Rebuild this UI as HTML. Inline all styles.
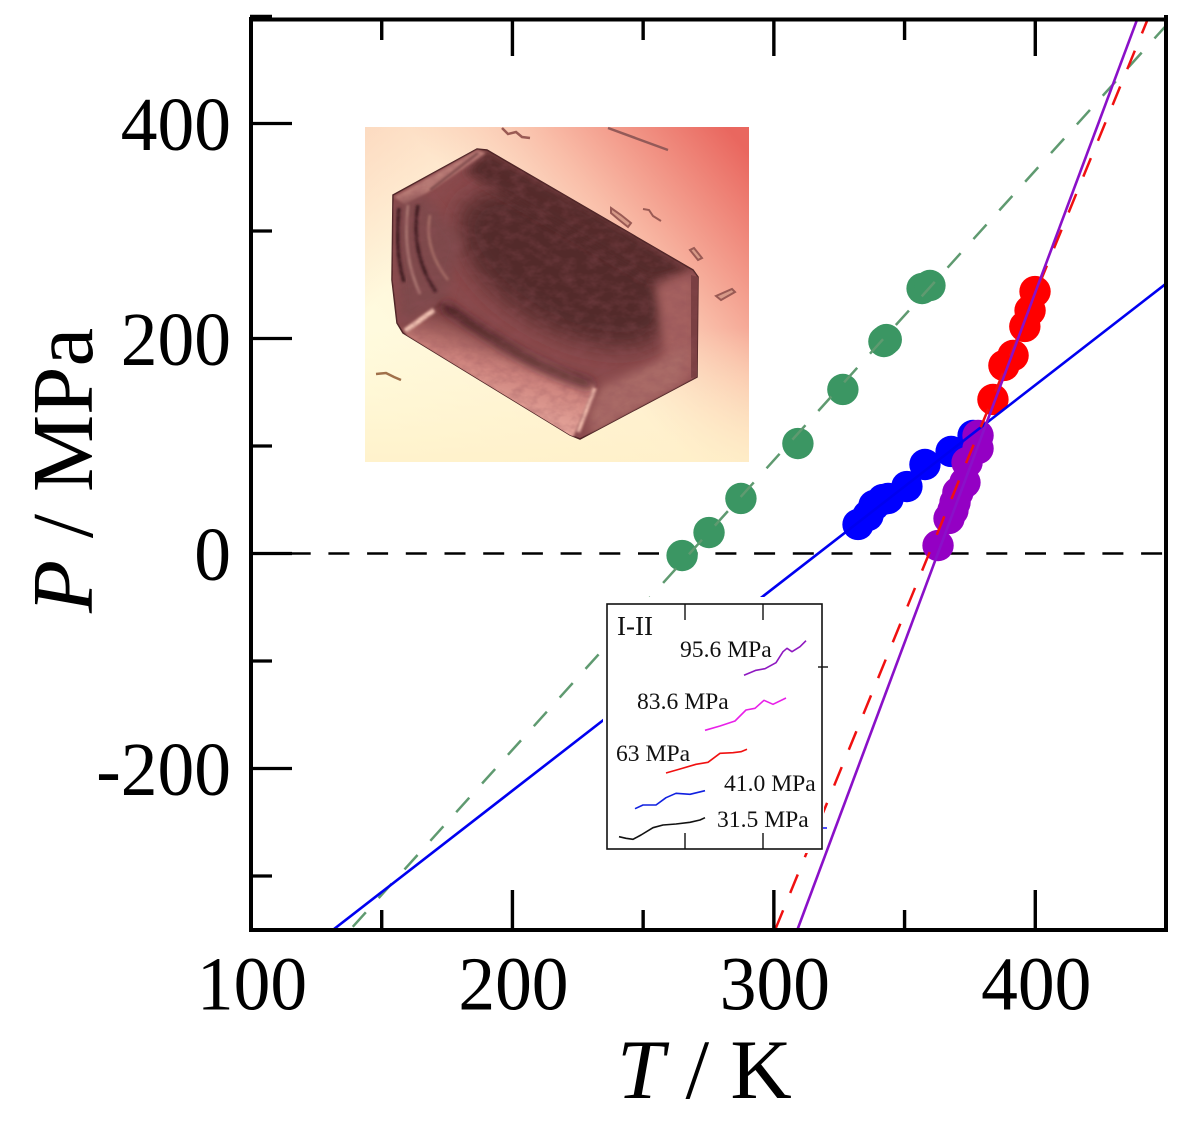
<!DOCTYPE html>
<html lang="en">
<head>
<meta charset="utf-8">
<title>P-T phase diagram</title>
<style>
html,body{margin:0;padding:0;background:#fff;}
svg{display:block;font-family:"Liberation Serif",serif;}
</style>
</head>
<body>
<svg id="chart" xmlns="http://www.w3.org/2000/svg" width="1200" height="1135" viewBox="0 0 1200 1135">
  <defs>
    <clipPath id="plot-clip"><rect x="251" y="19" width="915" height="911"/></clipPath>
    <clipPath id="crystal-clip"><polygon points="393,195 477,149 487,150 693,270 698,277 697,377 580,439 570,435 403,333 397,323 392,280"/></clipPath>
    <linearGradient id="photo-bg" x1="0" y1="0.8" x2="1" y2="0.08">
      <stop offset="0" stop-color="#fffde0"/>
      <stop offset="0.45" stop-color="#fff2d8"/>
      <stop offset="0.68" stop-color="#f9bda8"/>
      <stop offset="1" stop-color="#e9675f"/>
    </linearGradient>
    <linearGradient id="photo-top" x1="0" y1="0" x2="0.5" y2="0.45">
      <stop offset="0" stop-color="#fbcdb4" stop-opacity="0.65"/>
      <stop offset="0.55" stop-color="#fbcdb4" stop-opacity="0"/>
    </linearGradient>
    <linearGradient id="photo-bottom" x1="0" y1="0" x2="0" y2="1">
      <stop offset="0.6" stop-color="#fff0c8" stop-opacity="0"/>
      <stop offset="1" stop-color="#fff0c8" stop-opacity="0.85"/>
    </linearGradient>
    <linearGradient id="band-grad" x1="0.35" y1="0.1" x2="0.1" y2="0.75">
      <stop offset="0" stop-color="#6e3638"/>
      <stop offset="0.45" stop-color="#cc827c"/>
      <stop offset="1" stop-color="#eeb0a4"/>
    </linearGradient>
    <filter id="blur-lg" x="-30%" y="-30%" width="160%" height="160%"><feGaussianBlur stdDeviation="12"/></filter>
    <filter id="blur-md" x="-30%" y="-30%" width="160%" height="160%"><feGaussianBlur stdDeviation="5"/></filter>
    <filter id="blur-sm" x="-30%" y="-30%" width="160%" height="160%"><feGaussianBlur stdDeviation="1.3"/></filter>
    <filter id="mottle" x="0" y="0" width="100%" height="100%">
      <feTurbulence type="fractalNoise" baseFrequency="0.08 0.12" numOctaves="3" seed="7"/>
      <feColorMatrix type="matrix" values="0 0 0 0 0.28  0 0 0 0 0.08  0 0 0 0 0.1  1.6 0 0 0 -0.6"/>
    </filter>
  </defs>

  <g id="photo">
    <rect x="365" y="127" width="384" height="335" fill="url(#photo-bg)"/>
    <rect x="365" y="127" width="384" height="335" fill="url(#photo-top)"/>
    <rect x="365" y="127" width="384" height="335" fill="url(#photo-bottom)"/>
    <g>
      <polygon points="393,195 477,149 487,150 693,270 698,277 697,377 580,439 570,435 403,333 397,323 392,280" fill="#8a4a4c" stroke="#4c2224" stroke-width="1.5"/>
      <g clip-path="url(#crystal-clip)">
        <ellipse cx="565" cy="268" rx="118" ry="62" transform="rotate(30 565 268)" fill="#532a2c" filter="url(#blur-lg)"/>
        <polygon points="487,150 693,270 650,280 465,172" fill="#552a2c" filter="url(#blur-md)"/>
        <polygon points="405,335 440,300 487,330 595,385 572,440" fill="url(#band-grad)" filter="url(#blur-sm)"/>
        <polygon points="655,285 695,272 698,377 622,410 665,360" fill="#a4605f" filter="url(#blur-md)"/>
        <polygon points="691,275 698,277 697,377 691,378" fill="#7a3f42"/>
        <polygon points="394,197 477,150 486,153 432,190 405,205" fill="#b97b76" filter="url(#blur-sm)"/>
        <polygon points="393,205 425,195 462,240 445,300 402,325" fill="#7e4a4b" filter="url(#blur-md)"/>
        <polygon points="590,412 600,388 690,345 680,385 590,437" fill="#a96a66" filter="url(#blur-md)"/>
        <path d="M444,305 C500,345 540,370 592,385" fill="none" stroke="#401c20" stroke-width="8" filter="url(#blur-md)"/>
        <path d="M399,208 C396,240 398,262 404,282" fill="none" stroke="#3f1f22" stroke-width="3.5" filter="url(#blur-sm)"/>
        <path d="M408,205 C404,240 408,268 420,294" fill="none" stroke="#b07c76" stroke-width="2.5" filter="url(#blur-sm)"/>
        <path d="M418,205 C412,240 420,268 436,292" fill="none" stroke="#3f1f22" stroke-width="3.5" filter="url(#blur-sm)"/>
        <path d="M430,215 C425,240 434,262 448,280" fill="none" stroke="#a87068" stroke-width="2.5" filter="url(#blur-sm)"/>
        <path d="M405,331 L434,310" fill="none" stroke="#f0c0b0" stroke-width="5" filter="url(#blur-sm)"/>
        <path d="M578,432 L595,388" fill="none" stroke="#efb9aa" stroke-width="4" filter="url(#blur-sm)"/>
        <path d="M430,190 L478,153" fill="none" stroke="#6a3a3c" stroke-width="2" filter="url(#blur-sm)"/>
        <rect x="385" y="140" width="320" height="305" filter="url(#mottle)" opacity="0.4"/>
      </g>
    </g>
    <g fill="none" stroke="#9a5a54" stroke-width="2">
      <line x1="608" y1="128" x2="668" y2="150" stroke="#945a58" stroke-width="2.5"/>
      <path d="M502,128 l6,6 l8,-2 l6,5 l8,1" stroke-width="2.5"/>
      <path d="M611,208 l10,7 l10,8 l-3,4 l-10,-8 l-7,-6 z" fill="#d79a88"/>
      <path d="M643,209 l6,1 l4,6 l8,5"/>
      <path d="M690,250 l8,10 l4,-2 l-8,-10 z" fill="#d79a88"/>
      <path d="M716,296 l5,4 l14,-8 l-3,-3 z" fill="#d79a88"/>
      <path d="M376,374 l10,-1 l8,4 l7,3" stroke="#a0704a" stroke-width="2.5"/>
    </g>
  </g>

  <g id="layer-zero"></g>
  <g id="layer-marks"></g>
  <g id="layer-lines" clip-path="url(#plot-clip)"></g>
  <rect x="603" y="597" width="221" height="256" fill="#fff"/>
  <g id="layer-frame"></g>
  <g id="layer-labels"></g>

  <text x="617" y="1098" font-size="85" fill="#000"><tspan font-style="italic">T</tspan> / K</text>
  <text transform="translate(92,613) rotate(-90)" font-size="87" fill="#000"><tspan font-style="italic">P</tspan> / MPa</text>

  <g id="inset">
    <rect x="607" y="604" width="215" height="245" fill="#fff" stroke="#111" stroke-width="1.6"/>
    <line x1="685" y1="604" x2="685" y2="620" stroke="#111" stroke-width="1.4"/>
    <line x1="763" y1="604" x2="763" y2="620" stroke="#111" stroke-width="1.4"/>
    <line x1="685" y1="833" x2="685" y2="849" stroke="#111" stroke-width="1.4"/>
    <line x1="763" y1="833" x2="763" y2="849" stroke="#111" stroke-width="1.4"/>
    <line x1="818" y1="667" x2="828" y2="667" stroke="#111" stroke-width="1.4"/>
    <line x1="823" y1="828" x2="827" y2="828" stroke="#0000ff" stroke-width="1.4"/>
    <g font-size="23.6" fill="#111">
      <text x="617" y="635" font-size="27">I-II</text>
      <text x="680" y="657">95.6 MPa</text>
      <text x="637" y="709">83.6 MPa</text>
      <text x="616" y="761">63 MPa</text>
      <text x="724" y="791">41.0 MPa</text>
      <text x="717" y="827">31.5 MPa</text>
    </g>
    <g id="layer-traces"></g>
  </g>
</svg>
<script>
// Axis tick values
const xMajorTicks = [100, 200, 300, 400];
const xMinorTicks = [150, 250, 350];
const yMajorTicks = [-200, 0, 200, 400];
const yMinorTicks = [-300, -100, 100, 300];
const xTickLabels = ["100", "200", "300", "400"];
const yTickLabels = ["-200", "0", "200", "400"];

// Measured points (T in K, P in MPa)
const greenT = [264.9, 275.2, 287.4, 309.2, 326.4, 342.1, 343, 356.7, 359.7];
const greenP = [-1.9, 19.5, 51.2, 102.3, 152.6, 197.2, 199, 246.5, 249.3];
const redT = [383.8, 388, 391.5, 396, 398, 399.9];
const redP = [143.3, 174.9, 184.2, 211.2, 226, 243.7];
const blueT = [332.2, 336, 338.3, 341.7, 343.7, 350.9, 357.8, 367.8, 376.2];
const blueP = [27, 35.3, 44.7, 50.2, 51.2, 62.3, 82.8, 94.9, 109.8];
const purpleT = [362.8, 367, 368.5, 369.3, 370.4, 373.1, 373.9, 378.1, 378.1];
const purpleP = [7.4, 32.6, 40, 47.4, 56.7, 66, 84.7, 97.7, 109.8];

// Phase boundary lines (T in K, P in MPa)
const greenLineT = [137.9, 450];
const greenLineP = [-350, 491];
const blueLineT = [131.4, 450];
const blueLineP = [-350, 251];
const purpleLineT = [309, 439];
const purpleLineP = [-350, 497];
const redLineT = [300.5, 443];
const redLineP = [-350, 497];
const zeroLineT = [100, 450];
const zeroLineP = [0, 0];

// Inset traces (arbitrary units: scan position, heat-flow signal)
const trace315U = [12, 19, 26, 34, 46, 56, 69, 83, 93, 98];
const trace315V = [12.3, 10.7, 9.7, 14, 21.3, 24, 25, 26.7, 29, 31.3];
const trace410U = [28, 36, 49, 59, 69, 83, 98];
const trace410V = [40.3, 44, 44, 51.3, 55.7, 54.7, 58.3];
const trace63U = [59, 73, 89, 101, 113, 126, 134, 140];
const trace63V = [76, 80, 84.7, 86.7, 95.7, 96.3, 97.3, 99.7];
const trace836U = [98, 113, 128, 139, 148, 157, 166, 179];
const trace836V = [118.7, 123, 128, 139, 140.7, 148.7, 144.7, 151];
const trace956U = [137, 149, 158, 169, 176, 180, 185, 193, 199];
const trace956V = [173.7, 178.7, 180.3, 186.3, 197.3, 200.7, 197.3, 202.3, 208.3];

const NS = 'http://www.w3.org/2000/svg';
const sx = t => 251 + (t - 100) * 915 / 350;
const sy = p => 553.5 - p * 1.075;
const ix = u => 607 + u;
const iy = v => 849 - v;

function make(tag, attrs, parent) {
  const el = document.createElementNS(NS, tag);
  for (const k in attrs) el.setAttribute(k, attrs[k]);
  parent.appendChild(el);
  return el;
}

const marks = document.getElementById('layer-marks');
const lines = document.getElementById('layer-lines');
const zero = document.getElementById('layer-zero');
const frame = document.getElementById('layer-frame');
const labels = document.getElementById('layer-labels');
const traces = document.getElementById('layer-traces');

function drawPoints(ts, ps, color) {
  ts.forEach((t, i) => {
    const c = make('circle', {cx: sx(t), cy: sy(ps[i]), r: 15.7, fill: color}, marks);
    
    
  });
}
drawPoints(greenT, greenP, '#3b9663');
drawPoints(redT, redP, '#ff0000');
drawPoints(blueT, blueP, '#0000ff');
drawPoints(purpleT, purpleP, '#9400c4');

function drawLine(ts, ps, color, width, dash, offset, parent) {
  const attrs = {x1: sx(ts[0]), y1: sy(ps[0]), x2: sx(ts[1]), y2: sy(ps[1]), stroke: color, 'stroke-width': width};
  if (dash) attrs['stroke-dasharray'] = dash;
  if (offset) attrs['stroke-dashoffset'] = offset;
  const l = make('line', attrs, parent);
  
  
}
drawLine(zeroLineT, zeroLineP, '#000', 2.4, '21 17.7', 0, zero);
drawLine(greenLineT, greenLineP, '#5f9a70', 2.5, '19.5 19.1', -4, lines);
drawLine(blueLineT, blueLineP, '#0000f0', 2.6, null, 0, lines);
drawLine(redLineT, redLineP, '#f01010', 2.5, '20 18.7', -1, lines);
drawLine(purpleLineT, purpleLineP, '#8a10c8', 2.6, null, 0, lines);

function tick(x1, y1, x2, y2, w) {
  const l = make('line', {x1: x1, y1: y1, x2: x2, y2: y2, stroke: '#000', 'stroke-width': w}, frame);
  
  
}
xMajorTicks.forEach(t => {
  tick(sx(t), 930, sx(t), 890, 3.4);
  tick(sx(t), 19, sx(t), 56, 3.4);
});
xMinorTicks.forEach(t => {
  tick(sx(t), 930, sx(t), 910, 3.4);
  tick(sx(t), 19, sx(t), 40, 3.4);
});
yMajorTicks.forEach(p => tick(251, sy(p), 292, sy(p), 3.2));
yMinorTicks.forEach(p => tick(251, sy(p), 272, sy(p), 3.2));
tick(250, 17, 272, 17, 4.4);

const border = make('path', {d: 'M251,17 V930 H1166 V15 M251,19.5 H1166', fill: 'none', stroke: '#000', 'stroke-width': 4}, frame);



xTickLabels.forEach((s, i) => {
  const t = make('text', {transform: 'translate(' + (sx(xMajorTicks[i]) + 1) + ',1009.5) scale(1,1.04)', 'font-size': 73.5, 'text-anchor': 'middle', fill: '#000'}, labels);
  t.textContent = s;
  
  
});
yTickLabels.forEach((s, i) => {
  const t = make('text', {transform: 'translate(231,' + (sy(yMajorTicks[i]) + 26.5) + ') scale(1,1.04)', 'font-size': 73.5, 'text-anchor': 'end', fill: '#000'}, labels);
  t.textContent = s;
  
  
});

function drawTrace(us, vs, color) {
  const pts = us.map((u, i) => ix(u) + ',' + iy(vs[i])).join(' ');
  const p = make('polyline', {points: pts, fill: 'none', stroke: color, 'stroke-width': 1.6, 'stroke-linejoin': 'round'}, traces);
  
  
}
drawTrace(trace315U, trace315V, '#111111');
drawTrace(trace410U, trace410V, '#1020e0');
drawTrace(trace63U, trace63V, '#f01010');
drawTrace(trace836U, trace836V, '#e820e8');
drawTrace(trace956U, trace956V, '#8e18c0');
</script>
</body>
</html>
